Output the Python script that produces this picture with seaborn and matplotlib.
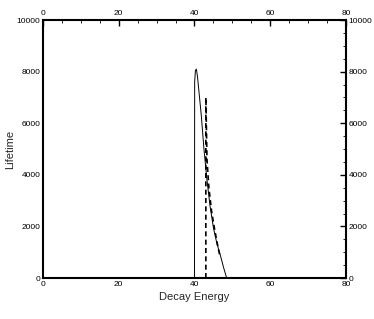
import matplotlib
matplotlib.use("Agg")
import matplotlib.pyplot as plt
import seaborn as sns
import pandas as pd
from matplotlib.ticker import MultipleLocator

sns.set_theme(style="white")
plt.rcParams['font.family'] = ['Liberation Sans', 'DejaVu Sans']

solid_x = [40.0, 40.05, 40.25, 40.5, 40.8, 41.2, 41.8, 42.5, 43.3, 44.1, 45.0, 45.9, 46.8, 47.7, 48.5]
solid_y = [0, 7600, 8050, 8100, 7800, 7200, 6300, 5000, 3800, 2800, 1950, 1350, 900, 400, 0]

dash_x = [43.0, 43.0, 43.3, 43.8, 44.5, 45.3, 46.2, 46.8]
dash_y = [0, 7000, 4600, 3500, 2600, 1900, 1200, 800]

df_solid = pd.DataFrame({"x": solid_x, "y": solid_y})
df_dash = pd.DataFrame({"x": dash_x, "y": dash_y})

fig = plt.figure(figsize=(3.74, 3.19), dpi=100)
ax = fig.add_axes([0.115, 0.1285, 0.81, 0.8085])

sns.lineplot(data=df_solid, x="x", y="y", ax=ax, color="black", lw=0.7,
             sort=False, estimator=None)
sns.lineplot(data=df_dash, x="x", y="y", ax=ax, color="black", lw=1.2,
             sort=False, estimator=None, linestyle=(0, (3, 2)))

ax.set_xlim(0, 80)
ax.set_ylim(0, 10000)
ax.xaxis.set_major_locator(MultipleLocator(20))
ax.xaxis.set_minor_locator(MultipleLocator(5))
ax.yaxis.set_major_locator(MultipleLocator(2000))
ax.yaxis.set_minor_locator(MultipleLocator(500))
ax.tick_params(which="both", direction="in", top=True, right=True,
               labeltop=True, labelright=True, labelsize=6, colors="black",
               pad=2)
ax.tick_params(which="major", length=4, width=1.0)
ax.tick_params(which="minor", length=2, width=0.6)
for s in ax.spines.values():
    s.set_color("black")
    s.set_linewidth(1.5)
ax.set_xlabel("Decay Energy", fontsize=8, labelpad=3)
ax.set_ylabel("Lifetime", fontsize=8, labelpad=1)

fig.savefig("out.png", dpi=100)
